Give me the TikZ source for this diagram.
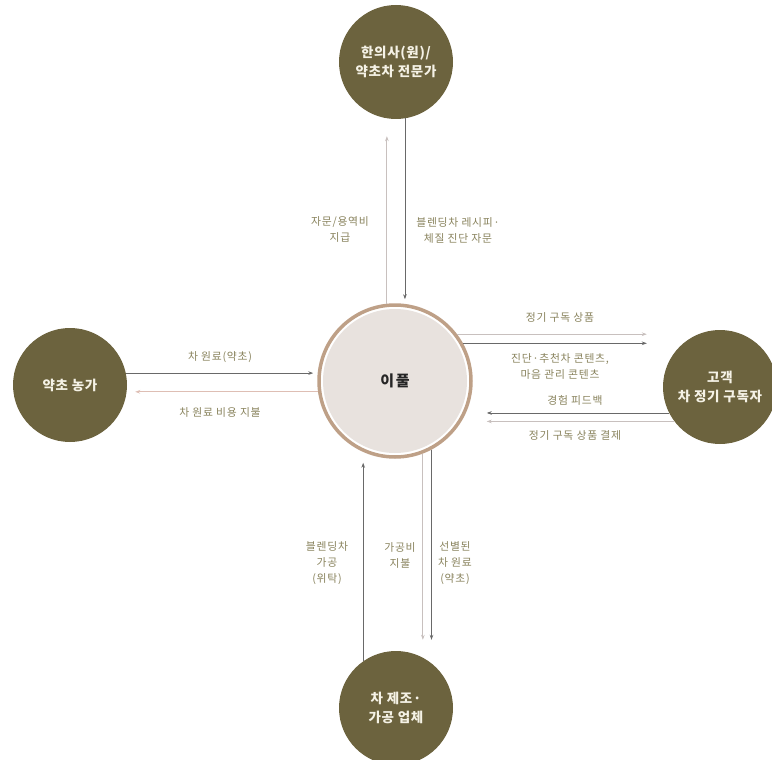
\documentclass[tikz,border=0pt]{standalone}
\usepackage{fontspec}
\setmainfont{Noto Sans CJK KR}
\newfontfamily\lblfont{Noto Sans CJK KR}[LetterSpace=7]
\newfontfamily\circfont{Noto Sans CJK KR}[LetterSpace=5]
\newfontfamily\hubfont{Noto Sans CJK KR}[LetterSpace=12]
\usetikzlibrary{arrows.meta}
\definecolor{olivec}{RGB}{108,99,62}
\definecolor{ringc}{RGB}{190,160,135}
\definecolor{innerc}{RGB}{232,226,222}
\definecolor{lblc}{RGB}{136,130,92}
\definecolor{darkln}{RGB}{105,105,105}
\definecolor{lightln}{RGB}{200,192,190}
\definecolor{pinkln}{RGB}{222,190,180}
\definecolor{circtxt}{RGB}{245,242,230}
\tikzset{
  actor/.style={circle, fill=olivec, minimum size=114pt, inner sep=0pt, text=circtxt,
    font=\circfont\fontsize{13.5}{19}\selectfont\bfseries, align=center},
  hub/.style={circle, draw=ringc, line width=3.5pt, fill=white, minimum size=152pt, inner sep=0pt,
    font=\hubfont\fontsize{15}{18}\selectfont\bfseries, text=black!85,
    path picture={\fill[innerc] (path picture bounding box.center) circle (72pt);}},
  lbl/.style={text=lblc, font=\lblfont\fontsize{10.8}{16}\selectfont, align=center, inner sep=0pt},
  tip/.style={-{Stealth[length=5pt,width=3.6pt]}},
  darkarrow/.style={tip, draw=darkln, line width=0.8pt},
  lightarrow/.style={tip, draw=lightln, line width=0.8pt},
  pinkarrow/.style={tip, draw=pinkln, line width=0.8pt},
}
\begin{document}
\begin{tikzpicture}[x=1pt,y=-1pt]
\useasboundingbox (0,0) rectangle (772,760);

\node[hub] (ipul) at (395,381) {이풀};
\node[actor] (top) at (396,62) {한의사(원)/\\약초차 전문가};
\node[actor] (left) at (70,385) {약초 농가};
\node[actor] (right) at (720,387) {고객\\차 정기 구독자};
\node[actor] (bottom) at (396,708) {차 제조·\\가공 업체};

% top
\draw[lightarrow, shorten >=17pt] (ipul.96.6) -- (ipul.96.6 |- top.south);
\draw[darkarrow, shorten >=4pt] (top.279.9) -- (top.279.9 |- ipul.north);
% left
\draw[darkarrow, shorten >=4pt] (left.12.2) -- (left.12.2 -| ipul.west);
\draw[pinkarrow, shorten >=8pt] (ipul.188.85) -- (ipul.188.85 -| left.east);
% right
\draw[lightarrow, shorten >=16pt] (ipul.37.05) -- (ipul.37.05 -| right.west);
\draw[darkarrow, shorten >=16pt] (ipul.29.16) -- (ipul.29.16 -| right.west);
\draw[darkarrow, shorten >=14pt] (right.207.14) -- (right.207.14 -| ipul.east);
\draw[lightarrow, shorten >=14pt] (right.217.88) -- (right.217.88 -| ipul.east);
% bottom
\draw[darkarrow, shorten >=4pt] (bottom.125.4) -- (bottom.125.4 |- ipul.south);
\draw[lightarrow, shorten >=11pt] (ipul.291.83) -- (ipul.291.83 |- bottom.north);
\draw[darkarrow, shorten >=11pt] (ipul.298.32) -- (ipul.298.32 |- bottom.north);

% labels
\node[lbl] (l1) at (340,229) {자문/용역비\\지급};
\node[lbl] (l2) at (458,230) {블렌딩차 레시피·\\체질 진단 자문};
\node[lbl] (l3) at (220,357) {차 원료(약초)};
\node[lbl] (l4) at (220,412) {차 원료 비용 지불};
\node[lbl] (l5) at (560,317) {정기 구독 상품};
\node[lbl] (l6) at (560,366) {진단·추천차 콘텐츠,\\마음 관리 콘텐츠};
\node[lbl] (l7) at (575,400) {경험 피드백};
\node[lbl] (l8) at (575,435) {정기 구독 상품 결제};
\node[lbl] (l9) at (327,563) {블렌딩차\\가공\\(위탁)};
\node[lbl] (l10) at (400,555) {가공비\\지불};
\node[lbl] (l11) at (455,563) {선별된\\차 원료\\(약초)};
\end{tikzpicture}
\end{document}
